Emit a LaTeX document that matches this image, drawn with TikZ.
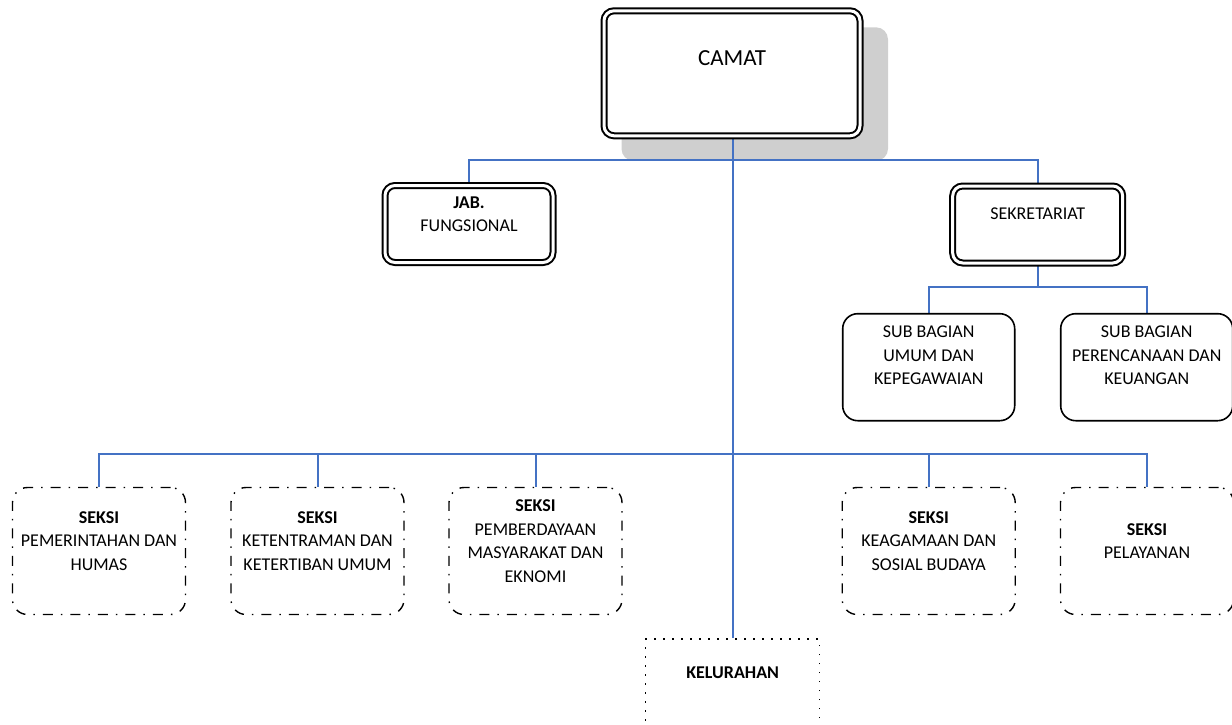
\documentclass[tikz,border=0pt]{standalone}
\usepackage{fontspec}
\setmainfont{Carlito}
\usetikzlibrary{backgrounds}
\definecolor{orgblue}{RGB}{68,114,196}
\tikzset{
	dbox/.style={draw,double,double distance=3pt,line width=2pt,rounded corners=10pt,fill=white,inner sep=0pt},
	subbox/.style={draw,line width=1.6pt,rounded corners=15pt,fill=white,inner sep=0pt,minimum width=172pt,minimum height=107pt},
	seksibox/.style={draw,line width=1.4pt,rounded corners=15pt,dash pattern=on 10pt off 8pt on 1.5pt off 8pt,fill=white,inner sep=0pt,minimum width=173pt,minimum height=127pt},
	kelbox/.style={draw,line width=1.5pt,dash pattern=on 1.5pt off 7.5pt,fill=white,inner sep=0pt,minimum width=174pt,minimum height=130pt},
	txt/.style={align=center,text=black,font=\fontsize{18pt}{23.5pt}\selectfont,inner sep=0pt},
	link/.style={orgblue,line width=2pt}
}
\begin{document}
\begin{tikzpicture}[x=1pt,y=-1pt]
	\useasboundingbox (0,0) rectangle (1232,725);
	% boxes
	\node[dbox,minimum width=256pt,minimum height=125pt] (camat) at (732,73.3) {};
	\node[dbox,minimum width=168pt,minimum height=77pt] (jab) at (469,224) {};
	\node[dbox,minimum width=170pt,minimum height=77pt] (sek) at (1037.7,224.5) {};
	\node[subbox] (sub1) at (928.7,367.2) {};
	\node[subbox] (sub2) at (1146.7,367.2) {};
	\foreach \n/\x in {s1/99,s2/317.5,s3/535.5,s4/928.7,s5/1147}
		\node[seksibox] (\n) at (\x,551) {};
	\node[kelbox] (kel) at (732.7,704) {};
	% texts
	\node[txt,font=\fontsize{23pt}{28pt}\selectfont] (camat-t) at (732,58) {CAMAT};
	\node[txt] (jab-t) at (469,214) {\textbf{JAB.}\\FUNGSIONAL};
	\node[txt] (sek-t) at (1037.7,213.5) {SEKRETARIAT};
	\node[txt] (sub1-t) at (928.7,355.5) {SUB BAGIAN\\UMUM DAN\\KEPEGAWAIAN};
	\node[txt] (sub2-t) at (1146.7,355.5) {SUB BAGIAN\\PERENCANAAN DAN\\KEUANGAN};
	\node[txt] (s1-t) at (99,541) {\textbf{SEKSI}\\PEMERINTAHAN DAN\\HUMAS};
	\node[txt] (s2-t) at (317.5,541) {\textbf{SEKSI}\\KETENTRAMAN DAN\\KETERTIBAN UMUM};
	\node[txt] (s3-t) at (535.5,541) {\textbf{SEKSI}\\PEMBERDAYAAN\\MASYARAKAT DAN\\EKNOMI};
	\node[txt] (s4-t) at (928.7,541) {\textbf{SEKSI}\\KEAGAMAAN DAN\\SOSIAL BUDAYA};
	\node[txt] (s5-t) at (1147,541) {\textbf{SEKSI}\\PELAYANAN};
	\node[txt] (kel-t) at (732.7,672.5) {\textbf{KELURAHAN}};
	% shadow and lines behind the boxes
	\coordinate (bus1) at (732.7,159.5);
	\coordinate (bus2) at (1037.7,286.7);
	\coordinate (bus3) at (732.7,454);
	\begin{pgfonlayer}{background}
		\fill[black!19,rounded corners=12pt] ([shift={(18.5,17.5)}]camat.north west) rectangle ([shift={(27,24)}]camat.south east);
		\draw[link] (camat.south -| bus1) -- (kel.north -| bus1);
		\draw[link] (jab.north) |- (bus1) -| (sek.north);
		\draw[link] (sek.south) -- (bus2);
		\draw[link] (sub1.north) |- (bus2) -| (sub2.north);
		\draw[link] (s1.north) |- (bus3) -| (s5.north);
		\foreach \n in {s2,s3,s4}
			\draw[link] (\n.north) -- (\n.north |- bus3);
	\end{pgfonlayer}
\end{tikzpicture}
\end{document}
